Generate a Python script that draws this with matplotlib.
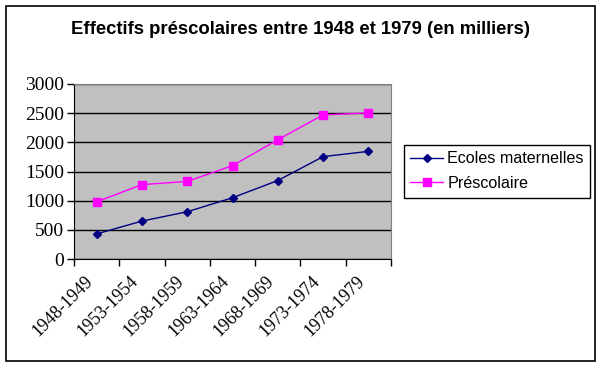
import matplotlib.pyplot as plt
import matplotlib.transforms as mtransforms
from matplotlib.patches import Rectangle
import numpy as np

periodes = ["1948-1949", "1953-1954", "1958-1959", "1963-1964",
            "1968-1969", "1973-1974", "1978-1979"]
ecoles_maternelles = [430, 650, 810, 1050, 1345, 1755, 1845]
prescolaire = [980, 1275, 1330, 1600, 2045, 2470, 2505]

fig = plt.figure(figsize=(6.03, 3.66), dpi=100)
fig.patch.set_facecolor("white")

W, H = 603, 366
ax = fig.add_axes([74 / W, (H - 259) / H, 317 / W, 175 / H])
ax.set_facecolor("#C0C0C0")

x = np.arange(len(periodes))
ax.plot(x, ecoles_maternelles, color="#000080", marker="D", markersize=4.5,
        linewidth=1, label="Ecoles maternelles")
ax.plot(x, prescolaire, color="#FF00FF", marker="s", markersize=5.5,
        linewidth=1, label="Préscolaire")

ax.set_xlim(-0.5, len(periodes) - 0.5)
ax.set_ylim(0, 3000)
ax.set_yticks(np.arange(0, 3001, 500))
ax.yaxis.grid(True, color="black", linewidth=1)
ax.set_axisbelow(True)

# ticks at category boundaries, labels centred under the categories
ax.set_xticks(np.arange(-0.5, len(periodes), 1.0))
ax.set_xticklabels([])
ax.set_xticks(x, minor=True)
ax.set_xticklabels(periodes, minor=True, rotation=45, ha="right",
                   va="top", rotation_mode="anchor",
                   fontfamily="Liberation Serif", fontsize=13)
ax.tick_params(axis="x", which="minor", length=0, pad=10)
ax.tick_params(axis="x", which="major", length=5, direction="out", width=1)
ax.tick_params(axis="y", length=5, direction="out", width=1, pad=2)
offset = mtransforms.ScaledTranslation(-12 / 100, 0, fig.dpi_scale_trans)
for lbl in ax.get_xticklabels(minor=True):
    lbl.set_transform(lbl.get_transform() + offset)
for lbl in ax.get_yticklabels():
    lbl.set_fontfamily("Liberation Serif")
    lbl.set_fontsize(14)

for s in ["top", "right"]:
    ax.spines[s].set_color("#808080")
for s in ["left", "bottom"]:
    ax.spines[s].set_color("black")

fig.text(0.5 - 1 / W, 1 - 30 / H, "Effectifs préscolaires entre 1948 et 1979 (en milliers)",
         ha="center", va="center", fontsize=13.3, fontweight="bold",
         fontfamily="Liberation Sans")

leg = fig.legend(loc="upper left", bbox_to_anchor=(404 / W, 1 - 145 / H),
                 bbox_transform=fig.transFigure, borderaxespad=0,
                 prop={"family": "Liberation Sans", "size": 11.6},
                 fancybox=False, edgecolor="black", framealpha=1,
                 handlelength=2.0, handletextpad=0.3, labelspacing=0.6,
                 borderpad=0.4)
leg.get_frame().set_linewidth(1)

fig.patches.append(Rectangle((6 / W, 5 / H), 589 / W, 355 / H,
                             transform=fig.transFigure, fill=False,
                             edgecolor="black", linewidth=1.2))

fig.savefig("out.png", dpi=100)
